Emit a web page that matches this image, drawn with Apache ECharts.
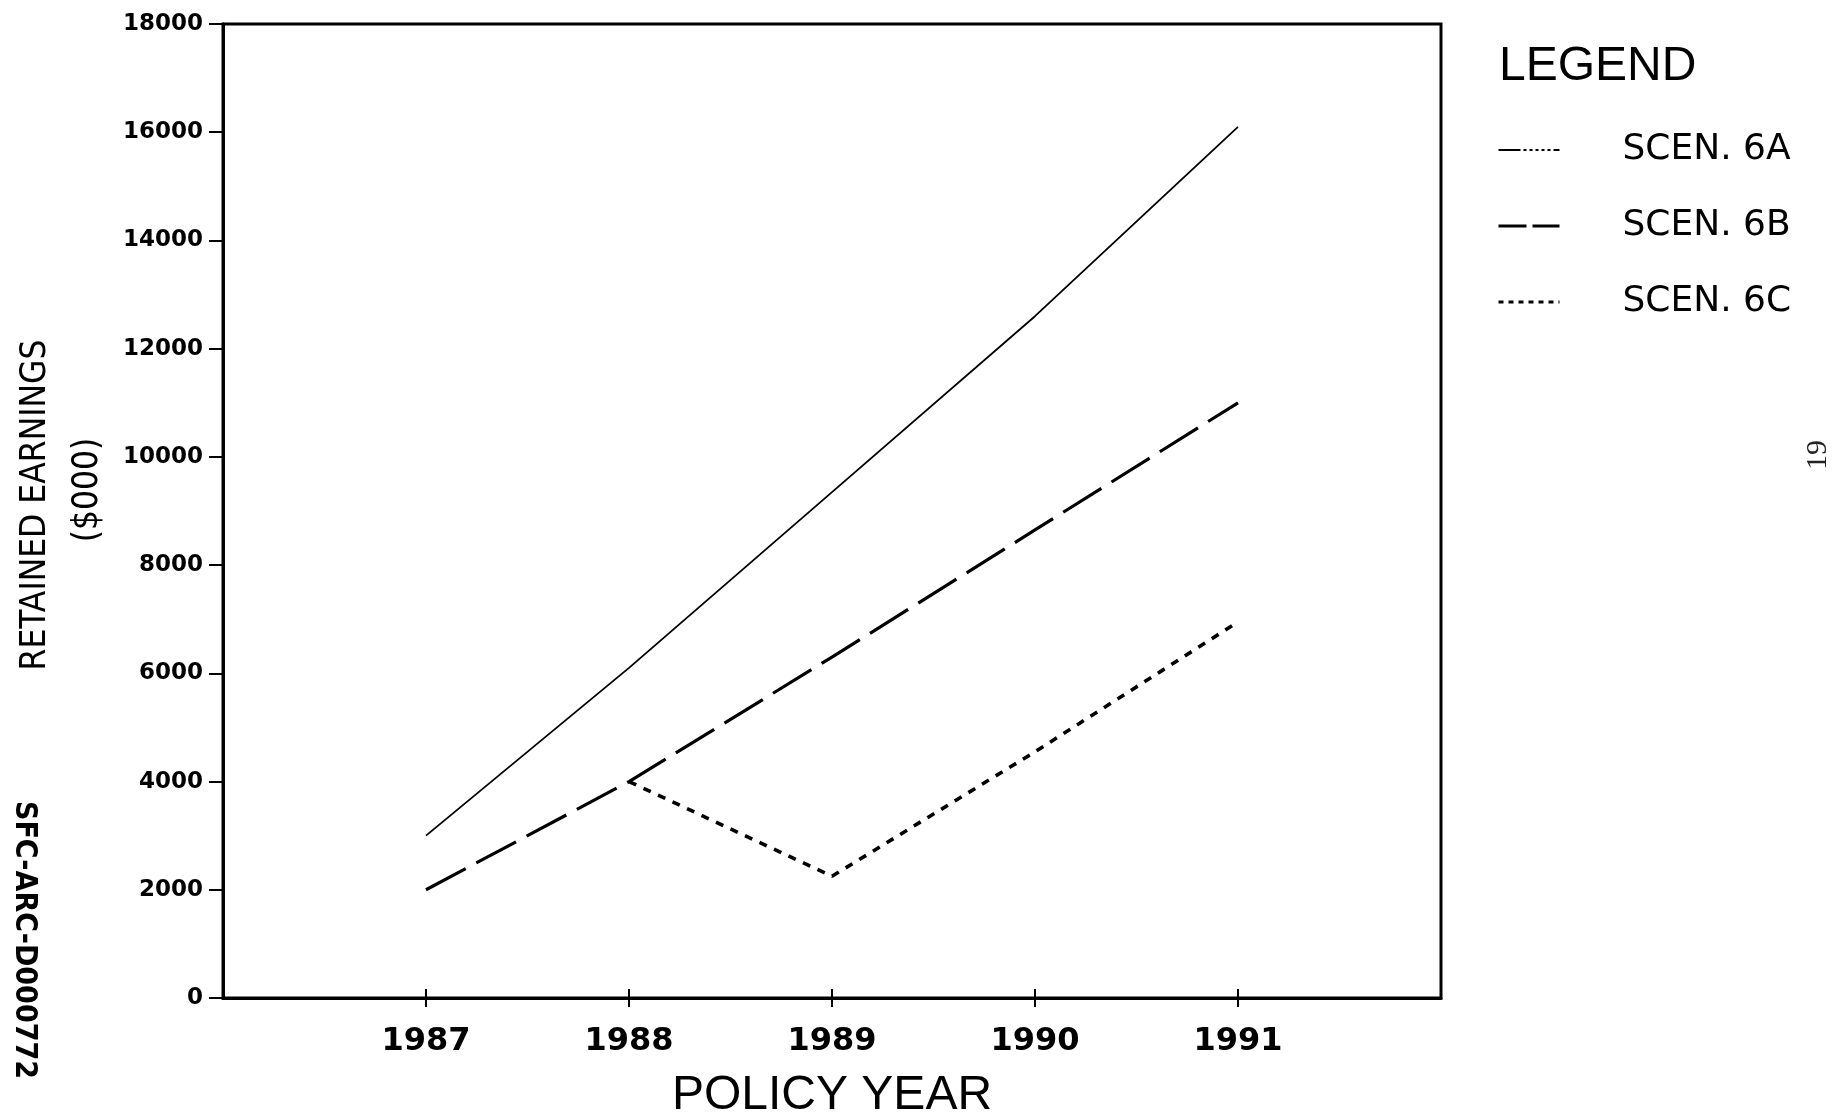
<!DOCTYPE html>
<html>
<head>
<meta charset="utf-8">
<script src="https://cdn.jsdelivr.net/npm/echarts@6/dist/echarts.min.js"></script>
<style>
  html, body { margin: 0; padding: 0; background: #fff; }
  #chart { width: 1844px; height: 1118px; }
</style>
</head>
<body>
<div id="chart"></div>
<script>
// ---- data ----
const years = [1987, 1988, 1989, 1990, 1991];
const scen6A = [3000, 6100, 9350, 12600, 16100];
const scen6B = [2000, 4000, 6300, 8650, 11000];
const scen6C = [null, 4000, 2250, 4550, 6950];
const seriesNames = ['SCEN. 6A', 'SCEN. 6B', 'SCEN. 6C'];
const yMin = 0, yMax = 18000, yStep = 2000;
const xMin = 1986, xMax = 1992;

function pairs(vals) {
  return years.map((y, i) => [y, vals[i]]).filter(p => p[1] !== null);
}

const chart = echarts.init(document.getElementById('chart'), null, { renderer: 'canvas' });

const digitFont = 'DejaVu Sans';
const narrow = '"Liberation Sans Narrow", "DejaVu Sans Condensed", "Liberation Sans", sans-serif';

chart.setOption({
  animation: false,
  backgroundColor: '#ffffff',
  grid: {
    left: 223, right: 403, top: 24, bottom: 120,
    containLabel: false, outerBoundsMode: 'none',
    show: true, borderColor: '#000', borderWidth: 3, backgroundColor: 'transparent'
  },
  xAxis: [
    {
      type: 'value', min: xMin, max: xMax, interval: 1, position: 'bottom',
      splitLine: { show: false },
      axisLine: { show: true, lineStyle: { color: '#000', width: 3 } },
      axisTick: { show: true, inside: false, length: 9, lineStyle: { color: '#000', width: 2 }, customValues: years },
      axisLabel: {
        customValues: years,
        formatter: v => (years.indexOf(v) >= 0 ? String(v) : ''),
        color: '#000', fontFamily: digitFont, fontWeight: 'bold', fontSize: 32, margin: 28
      },
      name: 'POLICY YEAR', nameLocation: 'middle', nameGap: 74,
      nameTextStyle: { color: '#000', fontFamily: 'Liberation Sans', fontSize: 48 }
    },
    {
      type: 'value', min: xMin, max: xMax, interval: 1, position: 'bottom',
      splitLine: { show: false },
      axisLine: { show: false },
      axisTick: { show: true, inside: true, length: 9, lineStyle: { color: '#000', width: 2 }, customValues: years },
      axisLabel: { show: false }
    }
  ],
  yAxis: {
    type: 'value', min: yMin, max: yMax, interval: yStep,
    splitLine: { show: false },
    axisLine: { show: true, lineStyle: { color: '#000', width: 3 } },
    axisTick: { show: true, inside: false, length: 14, lineStyle: { color: '#000', width: 2 } },
    axisLabel: {
      formatter: v => String(v),
      color: '#000', fontFamily: digitFont, fontWeight: 'bold', fontSize: 23, margin: 20
    }
  },
  legend: {
    orient: 'vertical', left: 1492, top: 127,
    itemWidth: 61, itemHeight: 20, itemGap: 40,
    selectedMode: false,
    itemStyle: { opacity: 0 },
    textStyle: { color: '#000', fontFamily: 'DejaVu Sans', fontSize: 36, lineHeight: 36, padding: [0, 0, 0, 58] },
    data: [
      { name: seriesNames[0], itemStyle: { opacity: 0 }, lineStyle: { type: [22, 3, 3, 3, 3, 3, 3, 3, 3, 3, 3, 3], width: 2, color: '#000' } },
      { name: seriesNames[1], itemStyle: { opacity: 0 }, lineStyle: { type: [28, 6], width: 3, color: '#000' } },
      { name: seriesNames[2], itemStyle: { opacity: 0 }, lineStyle: { type: [5, 5], width: 3, color: '#000' } }
    ]
  },
  graphic: [
    { type: 'text', left: 1499, top: 43, style: { text: 'LEGEND', fill: '#000', font: '48px "Liberation Sans"' } },
    { type: 'text', x: 36, y: 505, rotation: Math.PI / 2,
      style: { text: 'RETAINED EARNINGS', fill: '#000', font: '35px ' + narrow, align: 'center', verticalAlign: 'middle' } },
    { type: 'text', x: 88, y: 490, rotation: Math.PI / 2,
      style: { text: '($000)', fill: '#000', font: '35px ' + narrow, align: 'center', verticalAlign: 'middle' } },
    { type: 'text', x: 24, y: 940, rotation: -Math.PI / 2,
      style: { text: 'SFC-ARC-D000772', fill: '#000', font: 'bold 30px ' + narrow, align: 'center', verticalAlign: 'middle' } },
    { type: 'text', x: 1818, y: 455, rotation: Math.PI / 2,
      style: { text: '19', fill: '#222', font: '30px "Liberation Serif"', align: 'center', verticalAlign: 'middle' } }
  ],
  series: [
    {
      name: seriesNames[0], type: 'line', xAxisIndex: 0, symbol: 'none',
      data: pairs(scen6A),
      lineStyle: { color: '#000', width: 1.8, type: 'solid' }, itemStyle: { color: '#000' }
    },
    {
      name: seriesNames[1], type: 'line', xAxisIndex: 0, symbol: 'none',
      data: pairs(scen6B),
      lineStyle: { color: '#000', width: 3.2, type: [45, 12] }, itemStyle: { color: '#000' }
    },
    {
      name: seriesNames[2], type: 'line', xAxisIndex: 0, symbol: 'none',
      data: pairs(scen6C),
      lineStyle: { color: '#000', width: 3.6, type: [8, 8] }, itemStyle: { color: '#000' }
    }
  ]
});
</script>
</body>
</html>
